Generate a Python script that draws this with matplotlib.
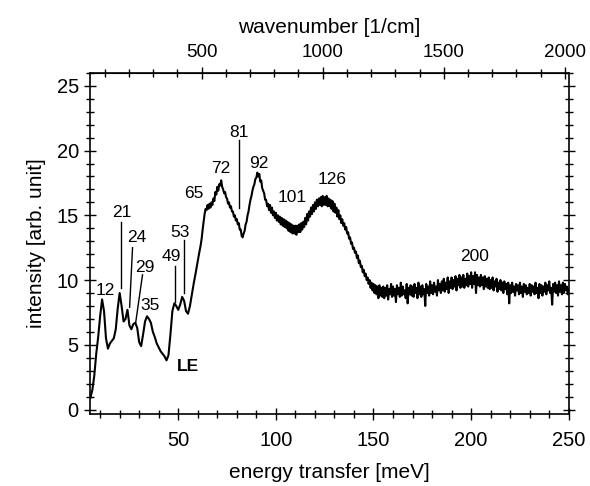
import numpy as np
import matplotlib.pyplot as plt
from matplotlib.ticker import MultipleLocator

plt.rcParams['font.family'] = ['Liberation Sans', 'DejaVu Sans']

# energy transfer [meV]: 1 meV steps below 60, 0.5 meV steps above
energy_low = np.arange(5, 60)
energy_high = np.arange(60, 250.5, 0.5)

# intensity (arb. unit)
intensity_low = [
    0.9, 1.5, 2.6, 4.3, 5.6, 7.2, 8.5, 7.6, 5.5, 4.7,
    5.1, 5.3, 5.5, 6.2, 7.8, 9.0, 8.0, 6.8, 7.0, 7.7,
    6.5, 6.2, 6.6, 6.7, 6.3, 5.2, 4.9, 5.8, 6.8, 7.2,
    7.0, 6.7, 6.0, 5.6, 5.1, 4.8, 4.5, 4.3, 4.1, 3.8,
    4.2, 5.8, 7.6, 8.2, 8.0, 7.7, 8.1, 8.7, 8.4, 7.6,
    7.4, 8.0, 8.9, 9.8, 10.6,
]
intensity_high = [
    11.5, 11.9, 12.3, 12.7, 13.2, 13.9, 14.5, 15.1, 15.5, 15.4,
    15.8, 15.5, 15.9, 15.6, 16.0, 15.8, 16.3, 16.1, 16.8, 16.6,
    17.2, 16.9, 17.4, 17.3, 17.7, 17.2, 17.0, 16.7, 16.8, 16.4,
    16.3, 15.9, 16.0, 15.6, 15.7, 15.3, 15.3, 14.9, 15.0, 14.6,
    14.7, 14.3, 14.4, 13.9, 13.9, 13.4, 13.3, 13.6, 13.8, 14.3,
    14.5, 15.0, 15.3, 15.8, 16.2, 16.5, 16.9, 17.2, 17.4, 17.8,
    17.9, 18.3, 18.0, 18.2, 17.6, 17.7, 17.1, 16.9, 16.7, 16.2,
    16.2, 15.7, 15.9, 15.4, 15.8, 15.2, 15.6, 15.0, 15.3, 14.8,
    15.2, 14.6, 15.0, 14.5, 14.9, 14.3, 14.8, 14.2, 14.7, 14.1,
    14.6, 14.0, 14.5, 13.8, 14.4, 13.7, 14.3, 13.6, 14.2, 13.6,
    14.2, 13.5, 14.2, 13.7, 14.3, 13.7, 14.4, 13.9, 14.5, 14.1,
    14.8, 14.3, 15.1, 14.6, 15.3, 14.9, 15.6, 15.1, 15.8, 15.3,
    16.0, 15.5, 16.2, 15.7, 16.3, 15.8, 16.4, 15.7, 16.5, 15.8,
    16.4, 15.8, 16.5, 15.7, 16.3, 15.7, 16.2, 15.5, 16.1, 15.3,
    15.9, 15.2, 15.6, 14.9, 15.4, 14.7, 15.0, 14.4, 14.7, 14.2,
    14.4, 13.9, 14.1, 13.6, 13.7, 13.2, 13.3, 12.8, 12.9, 12.4,
    12.5, 12.1, 12.2, 11.7, 11.9, 11.3, 11.5, 11.0, 11.1, 10.6,
    10.8, 10.3, 10.5, 10.0, 10.2, 9.7, 10.0, 9.4, 9.8, 9.2,
    9.7, 9.0, 9.6, 8.9, 9.5, 8.6, 9.6, 8.8, 9.4, 8.7,
    9.5, 8.6, 9.4, 8.8, 9.6, 8.5, 9.3, 8.9, 9.7, 8.7,
    9.5, 8.8, 9.3, 8.3, 9.6, 8.9, 9.4, 8.7, 9.8, 8.8,
    9.5, 8.9, 9.2, 8.6, 9.7, 8.2, 9.4, 8.9, 9.6, 8.8,
    9.5, 8.7, 9.7, 9.0, 9.4, 8.6, 9.8, 8.9, 9.5, 8.7,
    9.6, 8.9, 9.3, 8.0, 9.7, 9.0, 9.5, 8.8, 9.9, 9.0,
    9.6, 8.9, 9.8, 9.1, 9.5, 8.8, 10.0, 9.2, 9.7, 9.0,
    9.9, 9.2, 10.1, 9.1, 9.8, 9.3, 10.2, 9.0, 9.9, 9.4,
    10.2, 9.3, 10.0, 9.5, 10.3, 9.2, 10.1, 9.6, 10.4, 9.4,
    10.2, 9.5, 10.4, 9.4, 10.1, 9.6, 10.5, 9.5, 10.3, 9.7,
    10.6, 9.4, 10.3, 9.7, 10.6, 9.0, 10.4, 9.6, 10.2, 9.5,
    10.4, 9.6, 10.2, 9.3, 10.3, 9.5, 10.1, 9.4, 10.2, 9.3,
    10.0, 9.4, 10.2, 9.2, 9.9, 9.5, 10.1, 9.1, 9.8, 9.3,
    10.0, 9.2, 9.8, 9.0, 9.9, 9.3, 9.7, 8.9, 9.8, 8.2,
    9.6, 9.0, 9.8, 9.1, 9.5, 8.8, 9.7, 9.2, 9.6, 8.9,
    9.8, 9.0, 9.5, 8.7, 9.7, 9.1, 9.6, 8.9, 9.4, 9.0,
    9.7, 8.8, 9.6, 9.1, 9.5, 8.9, 9.8, 9.0, 9.4, 8.6,
    9.7, 9.0, 9.6, 8.8, 9.5, 9.1, 9.8, 8.9, 9.6, 9.2,
    9.9, 9.0, 9.4, 8.1, 9.7, 9.1, 9.8, 9.0, 9.6, 8.8,
    9.9, 9.1, 9.6, 8.9, 9.8, 9.0, 9.7, 9.2, 9.5, 8.9,
    9.3,
]

# peak labels and where their text sits (meV, intensity)
peak_labels = ["12", "21", "24", "29", "35", "49", "53", "65", "72", "81", "92", "101", "126", "200"]
label_x = [12.9, 21.1, 28.7, 32.7, 35.8, 46.4, 51.0, 58.0, 71.8, 81.0, 91.5, 108.4, 129.0, 202.0]
label_y = [9.2, 15.2, 13.3, 11.0, 8.0, 11.8, 13.7, 16.7, 18.6, 21.4, 19.0, 16.4, 17.8, 11.8]
# leader lines (x0, y0, x1, y1)
leaders = [
    (20.6, 14.5, 20.6, 9.4),
    (26.6, 12.5, 25.1, 7.9),
    (31.7, 10.4, 28.2, 6.7),
    (48.5, 11.1, 48.5, 8.3),
    (53.0, 13.1, 53.0, 9.0),
    (81.0, 20.8, 81.0, 15.6),
]

MEV_TO_CM = 8.0655

energy = np.concatenate([energy_low, energy_high])
intensity = np.array(intensity_low + intensity_high)

fig = plt.figure(figsize=(5.9, 4.86), dpi=100)
ax = fig.add_axes([0.1525, 0.148, 0.8115, 0.702])

ax.plot(energy, intensity, color='black', lw=1.5)

for t, x, y in zip(peak_labels, label_x, label_y):
    ax.text(x, y, t, fontsize=12.5, ha='center', va='center')
for x0, y0, x1, y1 in leaders:
    ax.plot([x0, x1], [y0, y1], color='black', lw=1.0)
ax.text(55.0, 3.3, "LE", fontsize=12.5, fontweight='bold', ha='center', va='center')

ax.set_xlim(4.8, 250)
ax.set_ylim(-0.35, 26.0)
ax.xaxis.set_major_locator(MultipleLocator(50))
ax.xaxis.set_minor_locator(MultipleLocator(10))
ax.yaxis.set_major_locator(MultipleLocator(5))
ax.yaxis.set_minor_locator(MultipleLocator(1))
ax.tick_params(which='both', direction='inout', right=True, top=False, labelsize=14.5, width=1)
ax.tick_params(which='major', length=9)
ax.tick_params(which='minor', length=6)
ax.tick_params(axis='x', pad=8)
ax.set_xlabel("energy transfer [meV]", fontsize=15, labelpad=9)
ax.set_ylabel("intensity [arb. unit]", fontsize=15, labelpad=8)

sec = ax.secondary_xaxis('top', functions=(lambda e: e * MEV_TO_CM, lambda w: w / MEV_TO_CM))
sec.xaxis.set_major_locator(MultipleLocator(500))
sec.xaxis.set_minor_locator(MultipleLocator(100))
sec.tick_params(which='both', direction='inout', labelsize=13.5, width=1, pad=4)
sec.tick_params(which='major', length=9)
sec.tick_params(which='minor', length=6)
sec.set_xlabel("wavenumber [1/cm]", fontsize=15, labelpad=8)

for s in ax.spines.values():
    s.set_linewidth(1.2)

fig.savefig("out.png", dpi=100)
